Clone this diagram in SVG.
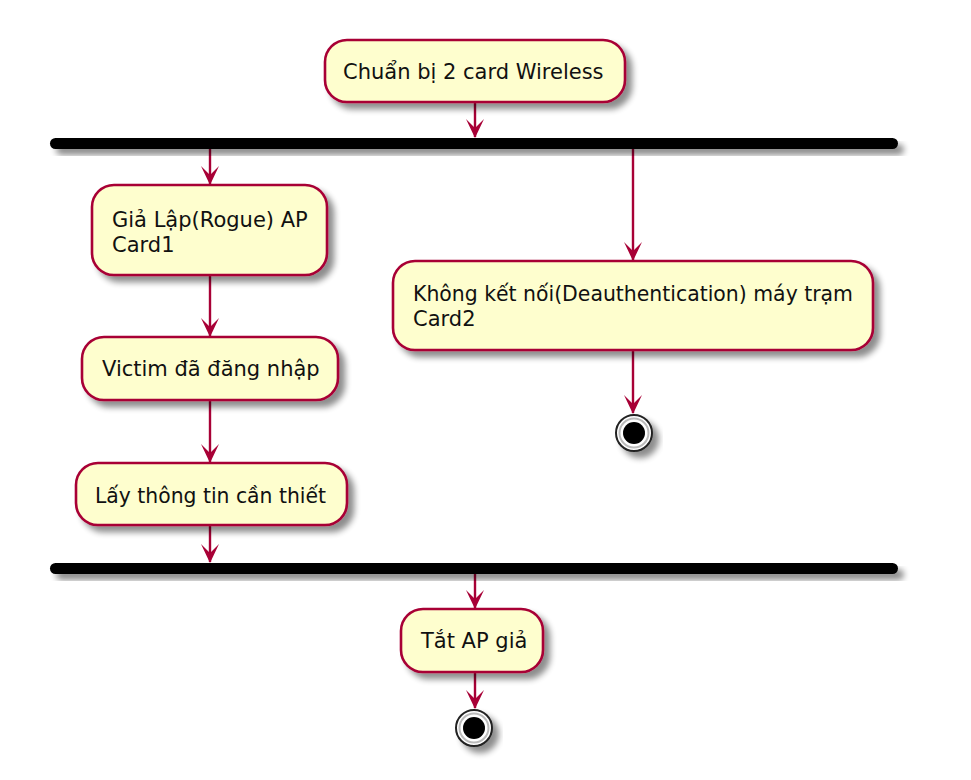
<svg xmlns="http://www.w3.org/2000/svg" width="971" height="780" viewBox="0 0 971 780">
<defs>
<filter id="sh" x="-20%" y="-20%" width="150%" height="180%">
<feGaussianBlur in="SourceAlpha" stdDeviation="3"/>
<feOffset dx="6" dy="6" result="b"/>
<feComponentTransfer><feFuncA type="linear" slope="0.45"/></feComponentTransfer>
<feMerge><feMergeNode/><feMergeNode in="SourceGraphic"/></feMerge>
</filter>
</defs>
<style>
.act{fill:#FEFECE;stroke:#A80036;stroke-width:2.6;filter:url(#sh)}
.t{font-family:"DejaVu Sans",sans-serif;font-size:21px;fill:#111}
.bar{fill:#000;filter:url(#sh)}
.ln{stroke:#A80036;stroke-width:2.4;fill:none}
.hd{fill:#A80036}
</style>
<rect width="971" height="780" fill="#fff"/>
<g id="connectors">
<line class="ln" x1="475" y1="102" x2="475" y2="137"/>
<polygon class="hd" points="466,119 475,138 484,119 475,128"/>
<line class="ln" x1="210" y1="149" x2="210" y2="184"/>
<polygon class="hd" points="201,166 210,185 219,166 210,175"/>
<line class="ln" x1="633" y1="149" x2="633" y2="260"/>
<polygon class="hd" points="624,242 633,261 642,242 633,251"/>
<line class="ln" x1="210" y1="275" x2="210" y2="336"/>
<polygon class="hd" points="201,318 210,337 219,318 210,327"/>
<line class="ln" x1="210" y1="400" x2="210" y2="462"/>
<polygon class="hd" points="201,444 210,463 219,444 210,453"/>
<line class="ln" x1="210" y1="525" x2="210" y2="562"/>
<polygon class="hd" points="201,544 210,563 219,544 210,553"/>
<line class="ln" x1="633" y1="350" x2="633" y2="413"/>
<polygon class="hd" points="624,395 633,414 642,395 633,404"/>
<line class="ln" x1="475" y1="574" x2="475" y2="608"/>
<polygon class="hd" points="466,590 475,609 484,590 475,599"/>
<line class="ln" x1="475" y1="672" x2="475" y2="708"/>
<polygon class="hd" points="466,690 475,709 484,690 475,699"/>
</g>
<g id="start_action">
<rect class="act" x="325" y="40" width="300" height="62" rx="22"/>
<text class="t" x="343" y="79">Chuẩn bị 2 card Wireless</text>
</g>
<g id="fork1">
<rect class="bar" x="50" y="138" width="848" height="11" rx="5.5"/>
</g>
<g id="rogue_ap">
<rect class="act" x="92" y="185" width="235" height="90" rx="22"/>
<text class="t" x="112" y="227">Giả Lập(Rogue) AP</text>
<text class="t" x="112" y="252">Card1</text>
</g>
<g id="victim">
<rect class="act" x="82" y="337" width="256" height="63" rx="22"/>
<text class="t" x="102" y="376">Victim đã đăng nhập</text>
</g>
<g id="get_info">
<rect class="act" x="76" y="463" width="271" height="62" rx="22"/>
<text class="t" x="95" y="503" textLength="231" lengthAdjust="spacingAndGlyphs">Lấy thông tin cần thiết</text>
</g>
<g id="deauth">
<rect class="act" x="393" y="261" width="480" height="89" rx="22"/>
<text class="t" x="413" y="301" textLength="440" lengthAdjust="spacingAndGlyphs">Không kết nối(Deauthentication) máy trạm</text>
<text class="t" x="413" y="326">Card2</text>
</g>
<g id="end1">
<g filter="url(#sh)">
<circle cx="634" cy="433" r="18" fill="#fff" stroke="#222" stroke-width="2"/>
<circle cx="634" cy="433" r="14.5" fill="none" stroke="#bbb" stroke-width="2"/>
<circle cx="634" cy="433" r="11" fill="#000"/>
</g>
</g>
<g id="fork2">
<rect class="bar" x="50" y="563" width="848" height="11" rx="5.5"/>
</g>
<g id="stop_ap">
<rect class="act" x="401" y="609" width="142" height="63" rx="22"/>
<text class="t" x="421" y="648">Tắt AP giả</text>
</g>
<g id="end2">
<g filter="url(#sh)">
<circle cx="474" cy="728" r="18" fill="#fff" stroke="#222" stroke-width="2"/>
<circle cx="474" cy="728" r="14.5" fill="none" stroke="#bbb" stroke-width="2"/>
<circle cx="474" cy="728" r="11" fill="#000"/>
</g>
</g>
</svg>
